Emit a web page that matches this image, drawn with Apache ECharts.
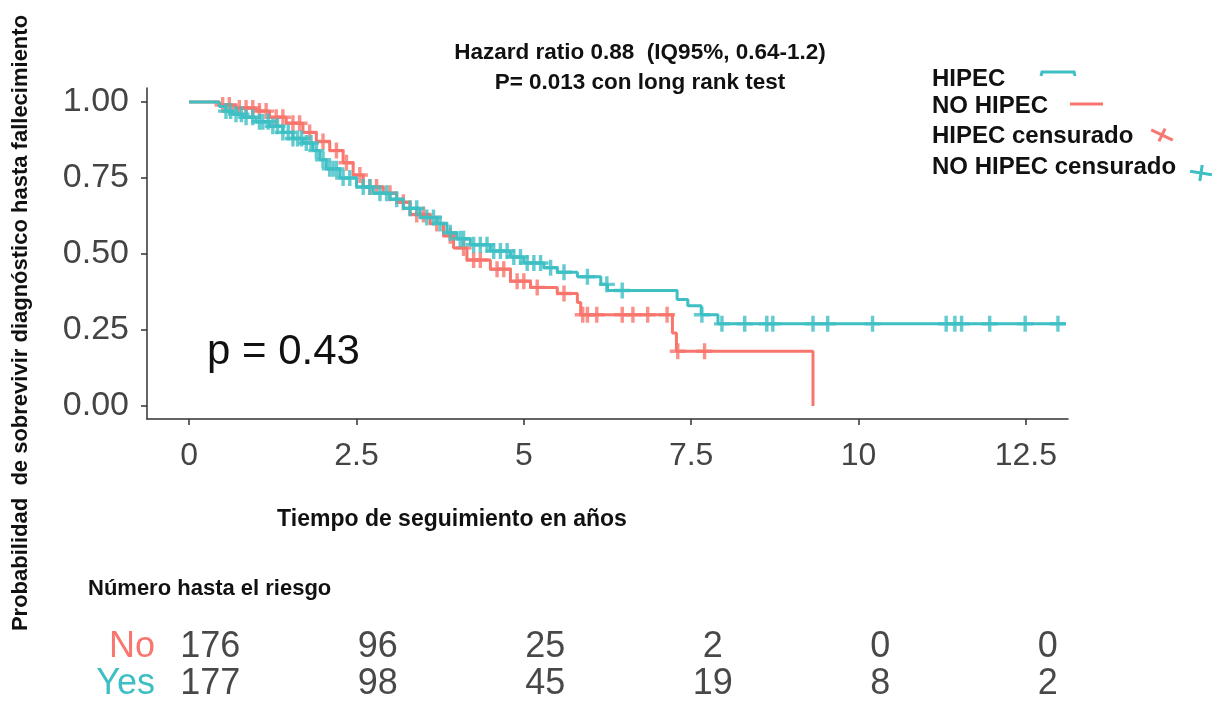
<!DOCTYPE html>
<html><head><meta charset="utf-8">
<script src="https://cdn.jsdelivr.net/npm/echarts@6/dist/echarts.min.js"></script>
<style>html,body{margin:0;padding:0;background:#fff}#c{width:1219px;height:702px}</style>
</head><body><div id="c"></div>
<script>
// ---- data ----
const xTicks = [0, 2.5, 5, 7.5, 10, 12.5];
const xTickLabels = ['0', '2.5', '5', '7.5', '10', '12.5'];
const yTicks = [0, 0.25, 0.5, 0.75, 1];
const yTickLabels = ['0.00', '0.25', '0.50', '0.75', '1.00'];

const hipecTime = [0, 0.45, 0.55, 0.65, 0.8, 1.0, 1.2, 1.4, 1.55, 1.7, 1.85, 1.95, 2.05, 2.25, 2.5, 2.75, 3.0, 3.2, 3.45, 3.7, 3.85, 4.0, 4.2, 4.5, 4.8, 5.0, 5.3, 5.5, 5.8, 6.15, 6.25, 7.29, 7.45, 7.65, 7.9, 13.1];
const hipecSurv = [1, 0.985, 0.97, 0.96, 0.95, 0.935, 0.92, 0.90, 0.88, 0.865, 0.84, 0.81, 0.78, 0.75, 0.72, 0.70, 0.68, 0.65, 0.62, 0.60, 0.57, 0.55, 0.53, 0.51, 0.49, 0.47, 0.455, 0.44, 0.425, 0.40, 0.38, 0.35, 0.33, 0.30, 0.27, 0.27];
const hipecCensor = [0.55, 0.62, 0.7, 0.78, 0.85, 0.95, 1.05, 1.1, 1.18, 1.25, 1.32, 1.4, 1.48, 1.55, 1.62, 1.68, 1.75, 1.82, 1.9, 2.0, 2.1, 2.15, 2.2, 2.3, 2.4, 2.6, 2.7, 2.85, 2.95, 3.1, 3.3, 3.4, 3.55, 3.65, 3.75, 3.9, 4.05, 4.1, 4.25, 4.35, 4.45, 4.55, 4.65, 4.75, 4.85, 4.95, 5.05, 5.15, 5.25, 5.4, 5.6, 5.95, 6.24, 6.47, 7.66, 7.96, 8.30, 8.63, 8.72, 9.32, 9.54, 10.21, 11.31, 11.44, 11.54, 11.96, 12.49, 12.98];

const noTime = [0, 0.45, 0.7, 1.0, 1.2, 1.45, 1.7, 1.9, 2.1, 2.3, 2.45, 2.6, 2.9, 3.1, 3.3, 3.6, 3.8, 3.95, 4.15, 4.5, 4.8, 5.1, 5.5, 5.8, 5.85, 7.22, 7.28, 9.32];
const noSurv = [1, 0.99, 0.98, 0.97, 0.95, 0.93, 0.90, 0.87, 0.84, 0.80, 0.76, 0.72, 0.70, 0.67, 0.63, 0.60, 0.56, 0.52, 0.48, 0.45, 0.41, 0.39, 0.37, 0.34, 0.30, 0.24, 0.18, 0.0];
const noCensor = [0.5, 0.6, 0.75, 0.85, 0.95, 1.05, 1.15, 1.3, 1.4, 1.55, 1.65, 1.8, 2.0, 2.2, 2.35, 2.55, 2.7, 2.8, 3.0, 3.2, 3.4, 3.5, 3.7, 3.9, 4.1, 4.25, 4.35, 4.6, 4.7, 4.9, 5.0, 5.2, 5.6, 5.88, 5.95, 6.09, 6.47, 6.63, 6.85, 7.14, 7.3, 7.7];

const riskTimes = [0, 2.5, 5, 7.5, 10, 12.5];
const riskGroups = ['Yes', 'No'];
const riskNo = [176, 96, 25, 2, 0, 0];
const riskYes = [177, 98, 45, 19, 8, 2];

// ---- styles ----
const RED = '#F8766D';
const TEAL = '#3DBFC4';
const FONT = "'Liberation Sans', Arial, Helvetica, sans-serif";
const PLUS = 'path://M5.5,0 H8.5 V5.5 H14 V8.5 H8.5 V14 H5.5 V8.5 H0 V5.5 H5.5 Z';

function survAt(times, surv, t) {
  let s = surv[0];
  for (let i = 0; i < times.length; i++) { if (times[i] <= t) s = surv[i]; }
  return s;
}
const pairs = (a, b) => a.map((t, i) => [t, b[i]]);

const chart = echarts.init(document.getElementById('c'));
const option = {
  backgroundColor: '#fff',
  animation: false,
  grid: [
    { left: 147, right: 151, top: 88, bottom: 283 },
    { left: 168, right: 129, top: 629, height: 76 }
  ],
  xAxis: [
    {
      type: 'value', gridIndex: 0, min: -0.63, max: 13.13,
      splitLine: { show: false },
      axisLine: { show: true, onZero: false, lineStyle: { color: '#333', width: 1.5 } },
      axisTick: { show: true, customValues: xTicks, length: 6, lineStyle: { color: '#333', width: 1.5 } },
      axisLabel: { customValues: xTicks, formatter: v => xTickLabels[xTicks.indexOf(v)], fontSize: 32, color: '#444', fontFamily: FONT, margin: 21 }
    },
    { type: 'value', gridIndex: 1, min: -0.63, max: 13.13, show: false }
  ],
  yAxis: [
    {
      type: 'value', gridIndex: 0, min: -0.043, max: 1.046,
      splitLine: { show: false },
      axisLine: { show: true, onZero: false, lineStyle: { color: '#333', width: 1.5 } },
      axisTick: { show: true, customValues: yTicks, length: 6, lineStyle: { color: '#333', width: 1.5 } },
      axisLabel: { customValues: yTicks, formatter: v => yTickLabels[yTicks.indexOf(v)], fontSize: 34, color: '#444', fontFamily: FONT, margin: 18 }
    },
    {
      type: 'category', gridIndex: 1, data: riskGroups,
      axisLine: { show: false }, axisTick: { show: false }, splitLine: { show: false },
      axisLabel: {
        interval: 0, hideOverlap: false,
        margin: 13, fontFamily: FONT, fontSize: 36,
        formatter: v => '{' + (v === 'No' ? 'n' : 'y') + '|' + v + '}',
        rich: { n: { color: RED, fontSize: 36, fontFamily: FONT }, y: { color: TEAL, fontSize: 36, fontFamily: FONT } }
      }
    }
  ],
  series: [
    { name: 'NO HIPEC', type: 'line', step: 'end', data: pairs(noTime, noSurv), showSymbol: false, symbol: 'none', lineStyle: { color: RED, width: 3 }, z: 2 },
    { name: 'NO censor', type: 'scatter', data: noCensor.map(t => [t, survAt(noTime, noSurv, t)]), symbol: PLUS, symbolSize: 16, itemStyle: { color: RED }, z: 3 },
    { name: 'HIPEC', type: 'line', step: 'end', data: pairs(hipecTime, hipecSurv), showSymbol: false, symbol: 'none', lineStyle: { color: TEAL, width: 3 }, z: 4 },
    { name: 'HIPEC censor', type: 'scatter', data: hipecCensor.map(t => [t, survAt(hipecTime, hipecSurv, t)]), symbol: PLUS, symbolSize: 16, itemStyle: { color: TEAL }, z: 5 },
    {
      name: 'riskNo', type: 'scatter', xAxisIndex: 1, yAxisIndex: 1, symbolSize: 1, itemStyle: { color: 'rgba(0,0,0,0)' },
      data: riskTimes.map((t, i) => [t, 'No', riskNo[i]]),
      label: { show: true, position: 'inside', formatter: p => p.value[2], fontSize: 36, color: '#1a1a1a', fontFamily: FONT }
    },
    {
      name: 'riskYes', type: 'scatter', xAxisIndex: 1, yAxisIndex: 1, symbolSize: 1, itemStyle: { color: 'rgba(0,0,0,0)' },
      data: riskTimes.map((t, i) => [t, 'Yes', riskYes[i]]),
      label: { show: true, position: 'inside', formatter: p => p.value[2], fontSize: 36, color: '#1a1a1a', fontFamily: FONT }
    }
  ],
  graphic: [
    { type: 'text', x: 640, y: 53, style: { text: 'Hazard ratio 0.88  (IQ95%, 0.64-1.2)', font: 'bold 22.5px ' + FONT, fill: '#111', align: 'center', verticalAlign: 'middle' } },
    { type: 'text', x: 640, y: 83, style: { text: 'P= 0.013 con long rank test', font: 'bold 22.5px ' + FONT, fill: '#111', align: 'center', verticalAlign: 'middle' } },
    { type: 'text', x: 932, y: 79, style: { text: 'HIPEC', font: 'bold 24px ' + FONT, fill: '#111', verticalAlign: 'middle' } },
    { type: 'text', x: 932, y: 106, style: { text: 'NO HIPEC', font: 'bold 24px ' + FONT, fill: '#111', verticalAlign: 'middle' } },
    { type: 'text', x: 932, y: 136, style: { text: 'HIPEC censurado', font: 'bold 24px ' + FONT, fill: '#111', verticalAlign: 'middle' } },
    { type: 'text', x: 932, y: 167, style: { text: 'NO HIPEC censurado', font: 'bold 24px ' + FONT, fill: '#111', verticalAlign: 'middle' } },
    { type: 'polyline', shape: { points: [[1041, 76], [1042, 72], [1074, 72], [1075, 76]] }, style: { stroke: TEAL, lineWidth: 3, fill: null } },
    { type: 'line', shape: { x1: 1070, y1: 104, x2: 1103, y2: 104 }, style: { stroke: RED, lineWidth: 3 } },
    { type: 'group', x: 1162, y: 135, rotation: -0.45, children: [
      { type: 'line', shape: { x1: -12, y1: 0, x2: 12, y2: 0 }, style: { stroke: RED, lineWidth: 3 } },
      { type: 'line', shape: { x1: 0, y1: -7, x2: 0, y2: 7 }, style: { stroke: RED, lineWidth: 3 } }
    ] },
    { type: 'group', x: 1201, y: 173, rotation: -0.15, children: [
      { type: 'line', shape: { x1: -11, y1: 0, x2: 11, y2: 0 }, style: { stroke: TEAL, lineWidth: 3 } },
      { type: 'line', shape: { x1: 0, y1: -8, x2: 0, y2: 8 }, style: { stroke: TEAL, lineWidth: 3 } }
    ] },
    { type: 'text', x: 207, y: 352, style: { text: 'p = 0.43', font: '42px ' + FONT, fill: '#111', verticalAlign: 'middle' } },
    { type: 'text', x: 452, y: 520, style: { text: 'Tiempo de seguimiento en años', font: 'bold 23px ' + FONT, fill: '#111', align: 'center', verticalAlign: 'middle' } },
    { type: 'text', x: 88, y: 589, style: { text: 'Número hasta el riesgo', font: 'bold 22px ' + FONT, fill: '#111', verticalAlign: 'middle' } },
    { type: 'text', x: 21, y: 323, rotation: Math.PI / 2, style: { text: 'Probabilidad  de sobrevivir diagnóstico hasta fallecimiento', font: 'bold 22px ' + FONT, fill: '#111', align: 'center', verticalAlign: 'middle' } }
  ]
};
chart.setOption(option);
</script>
</body></html>
